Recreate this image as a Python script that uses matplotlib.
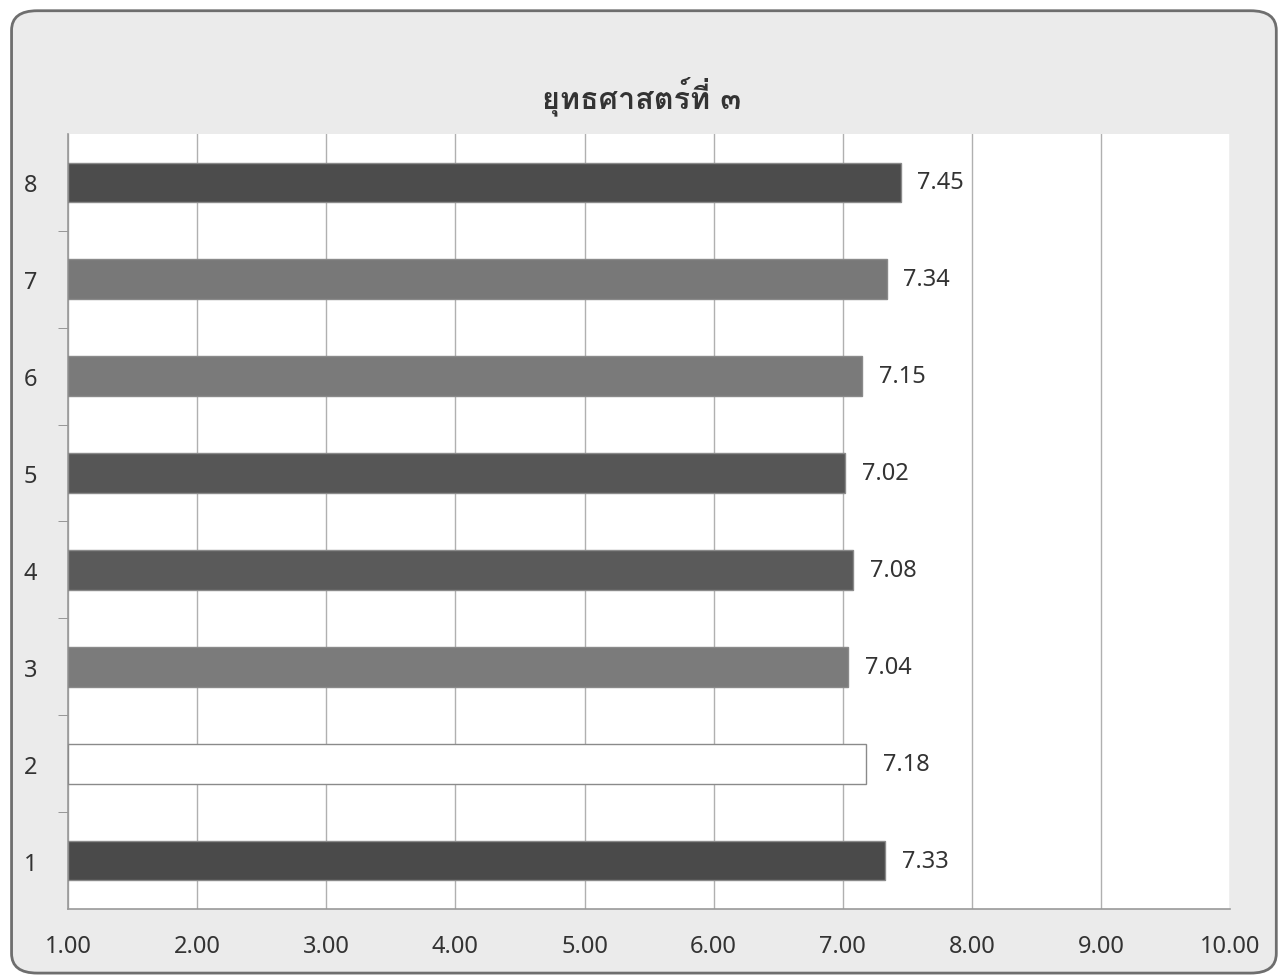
import matplotlib
matplotlib.use("Agg")
import matplotlib.pyplot as plt
from matplotlib.patches import FancyBboxPatch

plt.rcParams["font.family"] = ["Noto Sans", "DejaVu Sans"]

# ---- data ----
title = "ยุทธศาสตร์ที่ ๓"
categories = ["1", "2", "3", "4", "5", "6", "7", "8"]
values = [7.33, 7.18, 7.04, 7.08, 7.02, 7.15, 7.34, 7.45]
xticks = [1, 2, 3, 4, 5, 6, 7, 8, 9, 10]
bar_colors = ["#4a4a4a", "#ffffff", "#7b7b7b", "#5a5a5a", "#565656", "#7a7a7a", "#787878", "#4c4c4c"]

fig = plt.figure(figsize=(12.84, 9.78), dpi=100)
fig.patch.set_facecolor("white")
bg = FancyBboxPatch((0.009, 0.004), 0.985, 0.984, boxstyle="round,pad=0,rounding_size=0.02",
                    transform=fig.transFigure, facecolor="#ebebeb", edgecolor="#6e6e6e",
                    linewidth=2, zorder=-10)
fig.patches.append(bg)

ax = fig.add_axes([0.053, 0.0695, 0.905, 0.7925])
ax.set_zorder(1)
ax.set_facecolor("white")
ypos = list(range(1, len(categories) + 1))
left = xticks[0]
ax.barh(ypos, [v - left for v in values], left=left, height=0.41,
        color=bar_colors, edgecolor="#8a8a8a", linewidth=1.0, zorder=3)
for y, v in zip(ypos, values):
    ax.annotate(f"{v:.2f}", xy=(v, y), xytext=(12, 0), textcoords="offset points",
                va="center", ha="left", fontsize=17, color="#333333")

ax.set_xlim(1, 10)
ax.set_ylim(0.5, 8.5)
ax.set_xticks(xticks)
ax.set_xticklabels([f"{t:.2f}" for t in xticks], fontsize=17, color="#333333")
ax.set_yticks(ypos)
ax.set_yticklabels(categories, fontsize=17, color="#333333")
ax.set_yticks([y + 0.5 for y in ypos[:-1]], minor=True)
ax.tick_params(axis="y", which="major", length=0, pad=22)
ax.tick_params(axis="y", which="minor", length=7, color="#888888", direction="out")
ax.tick_params(axis="x", which="major", length=0, pad=18)
ax.grid(axis="x", color="#b0b0b0", linewidth=1.0, zorder=0)
for s in ["top", "right"]:
    ax.spines[s].set_visible(False)
for s in ["left", "bottom"]:
    ax.spines[s].set_color("#999999")
    ax.spines[s].set_linewidth(1.2)

fig.text(0.5, 0.902, title, ha="center", va="center", fontsize=22, fontweight="bold",
         color="#333333", family=["Loma", "DejaVu Sans"])
fig.savefig("out.png", dpi=100)
